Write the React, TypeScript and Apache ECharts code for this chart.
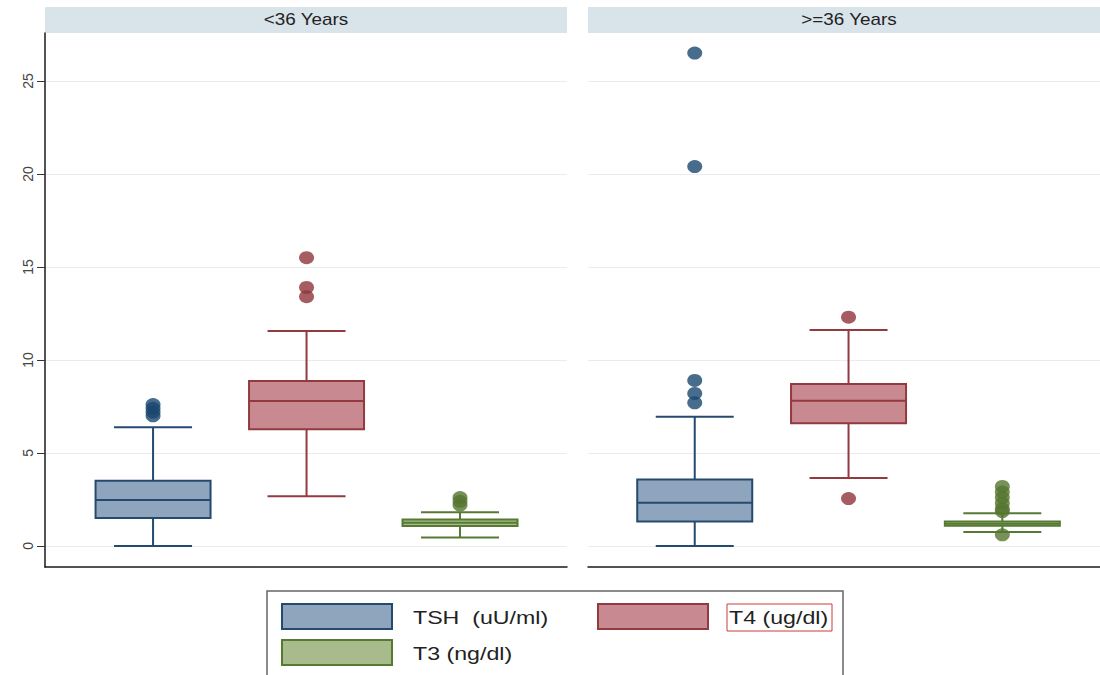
import React, { useEffect, useRef } from "react";
import * as echarts from "echarts";

// Panels and measures
const panels = ["<36 Years", ">=36 Years"];
const measures = ["TSH  (uU/ml)", "T4 (ug/dl)", "T3 (ng/dl)"];
const positions = [1, 2, 3];

// Box summaries: [min whisker, Q1, median, Q3, max whisker]
const boxesYoung = [
  [0, 1.5, 2.47, 3.51, 6.38],
  [2.67, 6.27, 7.8, 8.87, 11.56],
  [0.45, 1.07, 1.25, 1.43, 1.81],
];
const boxesOld = [
  [0, 1.31, 2.33, 3.58, 6.95],
  [3.66, 6.6, 7.81, 8.71, 11.61],
  [0.75, 1.09, 1.2, 1.31, 1.76],
];

// Outliers
const outYoungTSH = [7.0, 7.2, 7.4, 7.6];
const outYoungT4 = [13.4, 13.9, 15.5];
const outYoungT3 = [2.2, 2.4, 2.6];
const outOldTSH = [7.7, 8.2, 8.9, 20.4, 26.5];
const outOldT4 = [2.55, 12.3];
const outOldT3 = [0.6, 1.85, 2.0, 2.3, 2.6, 2.9, 3.2];

const yTicks = [0, 5, 10, 15, 20, 25];

const fills = ["#8ea5bd", "#c88a90", "#a7bb8c"];
const strokes = ["#244a70", "#933a41", "#567a32"];
const dotColors = ["#1a476f", "#90353b", "#55752f"];

const FONT = "'Liberation Sans', Arial, sans-serif";

function renderBox(params: any, api: any) {
  const x = api.value(0);
  const mn = api.value(1);
  const q1 = api.value(2);
  const md = api.value(3);
  const q3 = api.value(4);
  const mx = api.value(5);
  const pMin = api.coord([x, mn]);
  const pQ1 = api.coord([x, q1]);
  const pMd = api.coord([x, md]);
  const pQ3 = api.coord([x, q3]);
  const pMax = api.coord([x, mx]);
  const cx = pMin[0];
  const bw = 115;
  const cw = 78;
  const stroke = strokes[params.dataIndex];
  const fill = fills[params.dataIndex];
  const lw = 2;
  return {
    type: "group",
    children: [
      { type: "line", shape: { x1: cx, y1: pMax[1], x2: cx, y2: pQ3[1] }, style: { stroke, lineWidth: lw } },
      { type: "line", shape: { x1: cx, y1: pQ1[1], x2: cx, y2: pMin[1] }, style: { stroke, lineWidth: lw } },
      { type: "line", shape: { x1: cx - cw / 2, y1: pMax[1], x2: cx + cw / 2, y2: pMax[1] }, style: { stroke, lineWidth: lw } },
      { type: "line", shape: { x1: cx - cw / 2, y1: pMin[1], x2: cx + cw / 2, y2: pMin[1] }, style: { stroke, lineWidth: lw } },
      {
        type: "rect",
        shape: { x: cx - bw / 2, y: pQ3[1], width: bw, height: pQ1[1] - pQ3[1] },
        style: { fill, stroke, lineWidth: lw },
      },
      { type: "line", shape: { x1: cx - bw / 2, y1: pMd[1], x2: cx + bw / 2, y2: pMd[1] }, style: { stroke, lineWidth: lw } },
    ],
  };
}

function boxData(boxes: number[][]) {
  return boxes.map((b, i) => [positions[i], ...b]);
}
function dots(vals: number[], pos: number) {
  return vals.map((v) => [pos, v]);
}

export default function App() {
  const ref = useRef<HTMLDivElement>(null);
  useEffect(() => {
    if (!ref.current) return;
    const chart = echarts.init(ref.current, null, { renderer: "svg" });
    const gridTop = 33;
    const gridH = 534;
    const yMin = -1.13;
    const yMax = 27.58;
    const yAxisBase = {
      type: "value",
      min: yMin,
      max: yMax,
      splitLine: { show: true, lineStyle: { color: "#ebebeb", width: 1 } },
    };
    const xAxisBase = {
      type: "value",
      min: 0.296,
      max: 3.697,
      axisLine: { show: true, onZero: false, lineStyle: { color: "#1a1a1a", width: 1.5 } },
      axisTick: { show: false },
      axisLabel: { show: false },
      splitLine: { show: false },
    };
    const scatterBase = (xi: number, data: number[][], color: string) => ({
      type: "scatter",
      xAxisIndex: xi,
      yAxisIndex: xi,
      symbol: "circle",
      symbolSize: [15, 13],
      itemStyle: { color },
      data,
      z: 5,
    });
    const option: any = {
      animation: false,
      backgroundColor: "#ffffff",
      grid: [
        { left: 45, top: gridTop, width: 522, height: gridH },
        { left: 588, top: gridTop, width: 512, height: gridH },
      ],
      xAxis: [
        { ...xAxisBase, gridIndex: 0 },
        { ...xAxisBase, gridIndex: 1, min: 0.306, max: 3.635 },
      ],
      yAxis: [
        {
          ...yAxisBase,
          gridIndex: 0,
          axisLine: { show: true, lineStyle: { color: "#1a1a1a", width: 1.5 } },
          axisTick: { show: true, length: 8, customValues: yTicks, lineStyle: { color: "#333" } },
          axisLabel: {
            show: true,
            customValues: yTicks,
            rotate: 90,
            margin: 10,
            fontSize: 14,
            fontFamily: FONT,
            color: "#444",
          },
        },
        {
          ...yAxisBase,
          gridIndex: 1,
          axisLine: { show: false },
          axisTick: { show: false, customValues: yTicks },
          axisLabel: { show: false, customValues: yTicks },
        },
      ],
      series: [
        {
          type: "custom",
          name: panels[0],
          xAxisIndex: 0,
          yAxisIndex: 0,
          renderItem: renderBox,
          encode: { x: 0, y: [1, 2, 3, 4, 5] },
          data: boxData(boxesYoung),
          z: 3,
        },
        {
          type: "custom",
          name: panels[1],
          xAxisIndex: 1,
          yAxisIndex: 1,
          renderItem: renderBox,
          encode: { x: 0, y: [1, 2, 3, 4, 5] },
          data: boxData(boxesOld),
          z: 3,
        },
        scatterBase(0, dots(outYoungTSH, positions[0]), dotColors[0]),
        scatterBase(0, dots(outYoungT4, positions[1]), dotColors[1]),
        scatterBase(0, dots(outYoungT3, positions[2]), dotColors[2]),
        scatterBase(1, dots(outOldTSH, positions[0]), dotColors[0]),
        scatterBase(1, dots(outOldT4, positions[1]), dotColors[1]),
        scatterBase(1, dots(outOldT3, positions[2]), dotColors[2]),
      ],
      graphic: [
        { type: "rect", shape: { x: 45, y: 7, width: 522, height: 26 }, style: { fill: "#d9e3ea" } },
        { type: "rect", shape: { x: 588, y: 7, width: 512, height: 26 }, style: { fill: "#d9e3ea" } },
        {
          type: "text",
          x: 306,
          y: 20,
          scaleX: 1.18,
          style: { text: panels[0], fontSize: 16, fontFamily: FONT, fill: "#222", align: "center", verticalAlign: "middle" },
        },
        {
          type: "text",
          x: 849,
          y: 20,
          scaleX: 1.18,
          style: { text: panels[1], fontSize: 16, fontFamily: FONT, fill: "#222", align: "center", verticalAlign: "middle" },
        },
        // Legend
        {
          type: "rect",
          shape: { x: 267, y: 591, width: 576, height: 100 },
          style: { fill: "#ffffff", stroke: "#666", lineWidth: 1.5 },
        },
        {
          type: "rect",
          shape: { x: 282, y: 604, width: 110, height: 25 },
          style: { fill: fills[0], stroke: strokes[0], lineWidth: 2 },
        },
        {
          type: "rect",
          shape: { x: 598, y: 604, width: 110, height: 25 },
          style: { fill: fills[1], stroke: strokes[1], lineWidth: 2 },
        },
        {
          type: "rect",
          shape: { x: 282, y: 640, width: 110, height: 25 },
          style: { fill: fills[2], stroke: strokes[2], lineWidth: 2 },
        },
        {
          type: "text",
          x: 413,
          y: 617,
          scaleX: 1.22,
          style: { text: measures[0], fontSize: 19, fontFamily: FONT, fill: "#222", align: "left", verticalAlign: "middle" },
        },
        {
          type: "text",
          x: 729,
          y: 617,
          scaleX: 1.22,
          style: { text: measures[1], fontSize: 19, fontFamily: FONT, fill: "#222", align: "left", verticalAlign: "middle" },
        },
        {
          type: "text",
          x: 413,
          y: 653,
          scaleX: 1.22,
          style: { text: measures[2], fontSize: 19, fontFamily: FONT, fill: "#222", align: "left", verticalAlign: "middle" },
        },
        {
          type: "rect",
          shape: { x: 727, y: 604, width: 105, height: 27 },
          style: { fill: "none", stroke: "#d03a3a", lineWidth: 1 },
        },
      ],
    };
    chart.setOption(option);
    return () => chart.dispose();
  }, []);
  return (
    <div
      ref={ref}
      style={{ position: "absolute", left: 0, top: 0, width: 1100, height: 675 }}
    />
  );
}
